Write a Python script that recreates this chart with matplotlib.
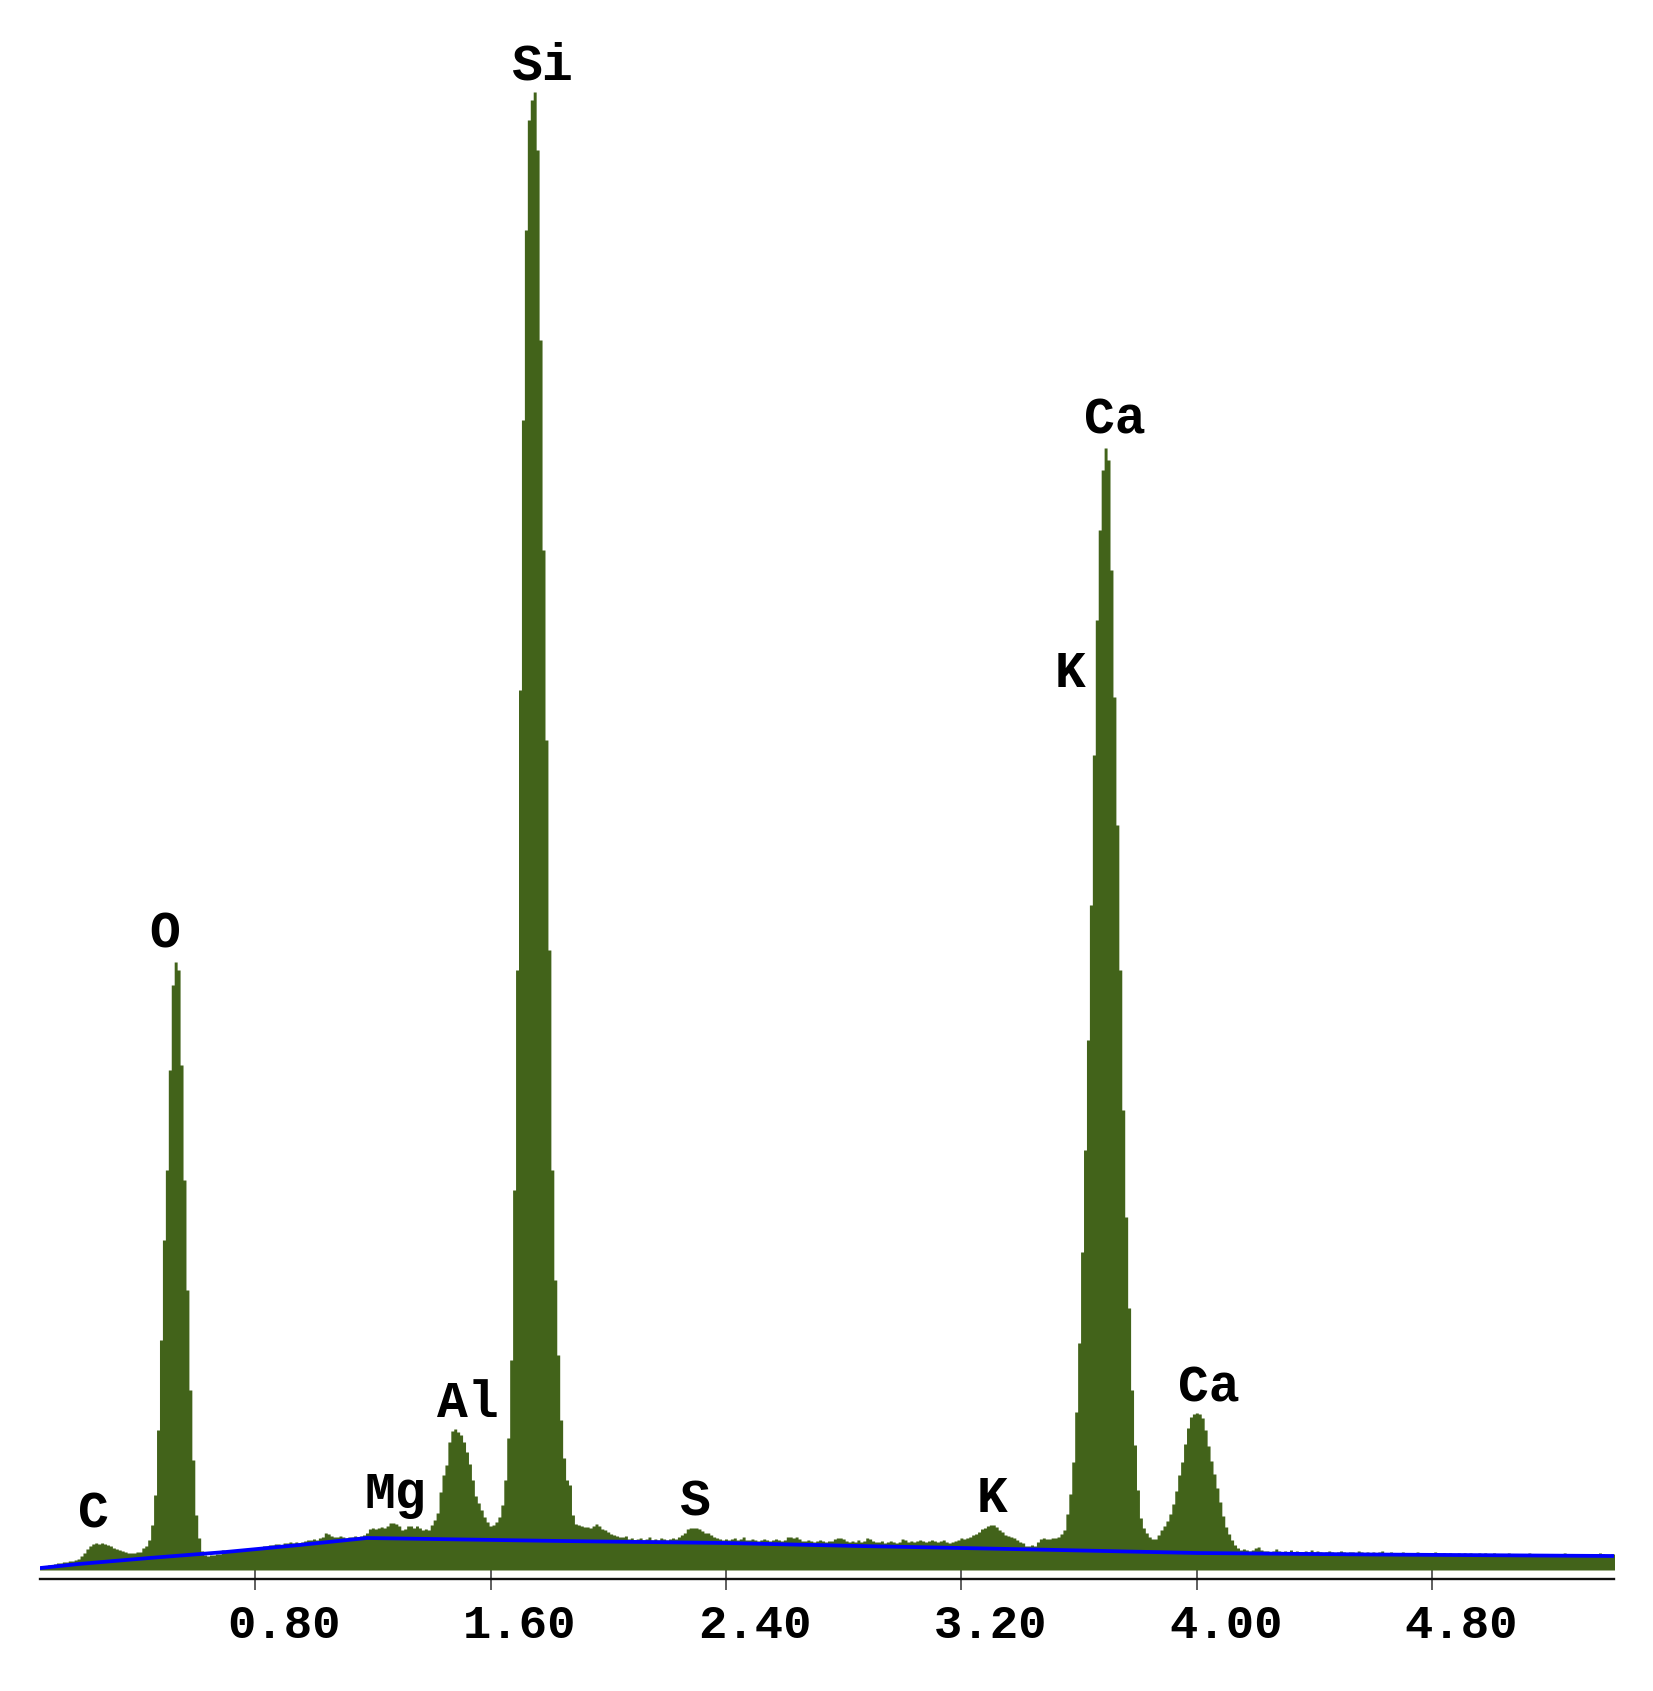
import numpy as np
import matplotlib
matplotlib.use("Agg")
import matplotlib.pyplot as plt

# ---------------- data ----------------
# channel width (keV) and centre of first channel
CH_WIDTH = 0.01
E_FIRST = 0.07

# counts per channel, channel centres 0.07, 0.08, ... keV (rows of 10)
counts = [
    3, 3, 4, 5, 5, 6, 7, 7, 8, 8,                      # 0.07
    9, 9, 10, 11, 14, 17, 21, 24, 26, 27,              # 0.17
    26, 27, 26, 25, 24, 22, 21, 20, 19, 18,            # 0.27
    17, 17, 17, 18, 18, 22, 24, 30, 45, 75,            # 0.37
    140, 230, 330, 400, 500, 585, 608, 600, 505, 390,  # 0.47
    280, 180, 110, 55, 32, 19, 15, 14, 15, 15,         # 0.57
    16, 16, 20, 18, 18, 19, 19, 20, 20, 21,            # 0.67
    20, 21, 22, 22, 22, 23, 24, 24, 25, 25,            # 0.77
    26, 26, 25, 27, 27, 28, 27, 28, 27, 28,            # 0.87
    29, 30, 30, 31, 30, 32, 33, 37, 36, 34,            # 0.97
    33, 33, 34, 33, 32, 33, 33, 34, 33, 34,            # 1.07
    35, 37, 41, 42, 41, 42, 43, 42, 44, 47,            # 1.17
    47, 46, 44, 40, 41, 44, 44, 42, 44, 42,            # 1.27
    40, 41, 40, 45, 50, 57, 78, 95, 105, 128,          # 1.37
    139, 141, 138, 135, 128, 118, 106, 90, 74, 67,     # 1.47
    60, 53, 48, 44, 45, 48, 53, 65, 90, 132,           # 1.57
    210, 380, 600, 880, 1150, 1340, 1450, 1470, 1478, 1420,  # 1.67
    1230, 1020, 830, 620, 400, 290, 215, 150, 112, 90,       # 1.77
    85, 55, 46, 45, 44, 43, 43, 42, 44, 46,            # 1.87
    44, 41, 40, 38, 36, 35, 34, 33, 33, 34,            # 1.97
    31, 32, 30, 31, 32, 30, 31, 33, 30, 31,            # 2.07
    30, 32, 31, 30, 31, 32, 31, 33, 35, 37,            # 2.17
    41, 42, 42, 42, 41, 39, 37, 37, 35, 33,            # 2.27
    32, 31, 30, 31, 30, 31, 32, 30, 31, 33,            # 2.37
    30, 30, 31, 30, 29, 30, 31, 30, 29, 30,            # 2.47
    31, 30, 29, 30, 33, 33, 32, 33, 31, 29,            # 2.57
    29, 30, 29, 28, 29, 30, 29, 28, 29, 29,            # 2.67
    31, 32, 32, 31, 29, 28, 29, 28, 30, 28,            # 2.77
    29, 32, 31, 29, 28, 28, 29, 27, 28, 29,            # 2.87
    28, 27, 28, 31, 30, 28, 29, 28, 29, 30,            # 2.97
    29, 28, 29, 30, 29, 28, 29, 30, 28, 27,            # 3.07
    28, 29, 30, 32, 31, 32, 33, 35, 36, 38,            # 3.17
    41, 42, 44, 45, 45, 43, 40, 38, 35, 34,            # 3.27
    33, 32, 30, 28, 27, 24, 24, 25, 24, 28,            # 3.37
    31, 32, 31, 31, 32, 32, 33, 36, 40, 56,            # 3.47
    76, 108, 158, 227, 318, 420, 530, 665, 815, 950,   # 3.57
    1040, 1100, 1122, 1110, 1000, 873, 745, 600, 460, 353,  # 3.67
    262, 180, 125, 80, 52, 42, 37, 33, 31, 31,         # 3.77
    35, 40, 44, 49, 56, 66, 79, 95, 108, 126,          # 3.87
    142, 153, 156, 157, 156, 152, 140, 124, 109, 96,   # 3.97
    82, 68, 54, 43, 36, 30, 25, 22, 20, 21,            # 4.07
    20, 19, 20, 22, 23, 20, 19, 19, 18, 19,            # 4.17
    21, 19, 18, 19, 18, 20, 18, 19, 18, 18,            # 4.27
    19, 18, 20, 18, 19, 18, 17, 18, 19, 18,            # 4.37
    17, 18, 19, 18, 17, 18, 18, 17, 19, 18,            # 4.47
    17, 18, 17, 18, 17, 18, 19, 17, 17, 18,            # 4.57
    17, 16, 17, 18, 17, 16, 17, 17, 18, 17,            # 4.67
    16, 17, 16, 17, 18, 17, 16, 17, 16, 17,            # 4.77
    16, 16, 17, 16, 17, 16, 17, 16, 16, 17,            # 4.87
    16, 17, 16, 16, 17, 16, 16, 15, 16, 17,            # 4.97
    16, 15, 16, 16, 15, 16, 17, 16, 15, 16,            # 5.07
    15, 16, 15, 16, 15, 16, 15, 16, 17, 16,            # 5.17
    15, 15, 16, 15, 16, 15, 15, 16, 15, 16,            # 5.27
    17, 16, 15, 15, 16, 16,                            # 5.37
]

# fitted background (blue line)
bg_energy = [0.07, 0.20, 0.44, 0.70, 0.95, 1.18, 1.40, 1.84, 2.40, 2.85, 3.20, 3.53, 4.00, 4.60, 5.42]
bg_counts = [2, 6, 12, 18, 25, 32, 31, 29, 27, 24, 22, 20, 17, 15.5, 14]

# peak labels
peak_labels = ["C", "O", "Mg", "Al", "Si", "S", "K", "K", "Ca", "Ca"]
label_energy = [0.252, 0.493, 1.278, 1.523, 1.774, 2.293, 3.303, 3.568, 3.720, 4.040]
label_counts = [42, 622, 62, 153, 1490, 55, 58, 883, 1137, 169]

tick_values = [0.80, 1.60, 2.40, 3.20, 4.00, 4.80]
tick_labels = ["0.80", "1.60", "2.40", "3.20", "4.00", "4.80"]

# ---------------- drawing ----------------
W, H = 1653, 1691
fig = plt.figure(figsize=(W / 100, H / 100), dpi=100)
fig.patch.set_facecolor("white")
ax = fig.add_axes([40 / W, 112 / H, 1574.4 / W, 1579 / H])

n = len(counts)
edges = E_FIRST - CH_WIDTH / 2 + CH_WIDTH * np.arange(n + 1)
vals = np.array(counts + [counts[-1]], dtype=float)

GREEN = "#42631a"
ax.fill_between(edges, 0, vals, step="post", color=GREEN, lw=0, zorder=2)
ax.plot(bg_energy, bg_counts, color="#0000ff", lw=2.7, zorder=3, solid_joinstyle="miter")

ax.set_xlim(0.069, 5.419)
ax.set_ylim(-9, 1570)

for s in ["left", "right", "top"]:
    ax.spines[s].set_visible(False)
ax.spines["bottom"].set_linewidth(1.7)
ax.spines["bottom"].set_color("#111111")
ax.set_yticks([])
ax.set_xticks(tick_values)
ax.set_xticklabels([])
ax.tick_params(axis="x", direction="inout", length=16.5, width=1.1, color="#333333")

mono = ["Liberation Mono", "DejaVu Sans Mono"]
for v, lab in zip(tick_values, tick_labels):
    ax.annotate(lab, xy=(v, 0), xycoords=("data", "axes fraction"),
                xytext=(20.9, -42.5), textcoords="offset points",
                ha="center", va="baseline", fontsize=34, fontweight="bold",
                family=mono, color="black", annotation_clip=False)

for lab, e, c in zip(peak_labels, label_energy, label_counts):
    ax.text(e, c, lab, ha="center", va="baseline", fontsize=37,
            fontweight="bold", family=mono, color="black", zorder=4)

fig.savefig("out.png", dpi=100, facecolor="white")
